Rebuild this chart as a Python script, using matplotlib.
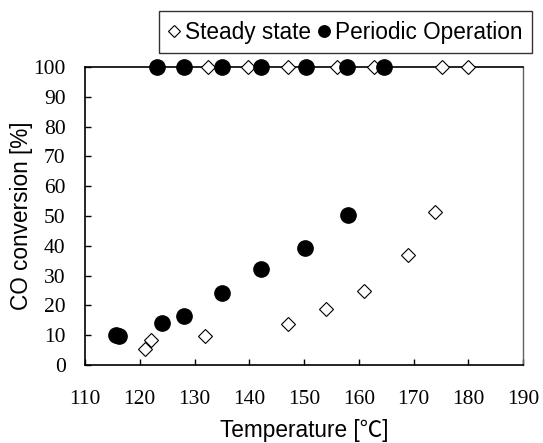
import matplotlib
matplotlib.use("Agg")
import matplotlib.pyplot as plt

# データ
steady_T = [121, 122, 132, 147, 154, 161, 169, 174,
            132.4, 139.8, 147.1, 156, 162.7, 175.2, 180]
steady_conv = [5.3, 8.3, 9.8, 13.9, 18.9, 24.9, 36.8, 51.2,
               100, 100, 100, 100, 100, 100, 100]
periodic_T = [115.6, 116.2, 124, 128.1, 135, 142.1, 150.2, 158.1,
              123.1, 128.1, 135, 142.1, 150.3, 157.8, 164.7]
periodic_conv = [10, 9.7, 14.2, 16.3, 24, 32.1, 39.4, 50.2,
                 100, 100, 100, 100, 100, 100, 100]

xticks = list(range(110, 200, 10))
yticks = list(range(0, 110, 10))

fig = plt.figure(figsize=(5.43, 4.43), dpi=100)
ax = fig.add_axes([85 / 543, 1 - 365 / 443, 438 / 543, 298 / 443])

ax.plot(steady_T, steady_conv, linestyle="none", marker="D", ms=7.6,
        mfc="white", mec="black", mew=0.8, clip_on=False, zorder=3,
        label="Steady state")
ax.plot(periodic_T, periodic_conv, linestyle="none", marker="o", ms=11,
        mfc="black", mec="black", clip_on=False, zorder=4,
        label="Periodic Operation")

ax.set_xlim(110, 190)
ax.set_ylim(0, 100)
ax.set_xticks(xticks)
ax.set_yticks(yticks)
ax.tick_params(direction="in", length=4, width=1, top=False, right=False,
               labelsize=15.5)
ax.tick_params(axis="x", pad=18)
ax.tick_params(axis="y", pad=14)
for lab in ax.get_xticklabels() + ax.get_yticklabels():
    lab.set_fontfamily("Liberation Serif")

for s in ax.spines.values():
    s.set_linewidth(1.2)
ax.spines["right"].set_color("#606060")
ax.spines["right"].set_linewidth(1)

ax.set_xlabel("Temperature [℃]", fontsize=16.3,
              family=["Liberation Sans", "Noto Sans CJK JP"])
ax.set_ylabel("CO conversion [%]", fontsize=16.3, family="Liberation Sans")
ax.xaxis.set_label_coords(0.5, (365 - 419) / 298)
ax.yaxis.set_label_coords((33 - 85) / 438, 0.5)

leg = ax.legend(loc="upper right", bbox_to_anchor=(532 / 543, 1 - 11 / 443),
                bbox_transform=fig.transFigure, ncol=2, frameon=True,
                fancybox=False, markerscale=0.75, handlelength=0.5,
                handletextpad=0.25, columnspacing=0.3, borderpad=0.42,
                borderaxespad=0,
                prop={"family": "Liberation Sans", "size": 16.3})
leg.get_frame().set_edgecolor("black")
leg.get_frame().set_linewidth(1)

fig.savefig("out.png", dpi=100)
